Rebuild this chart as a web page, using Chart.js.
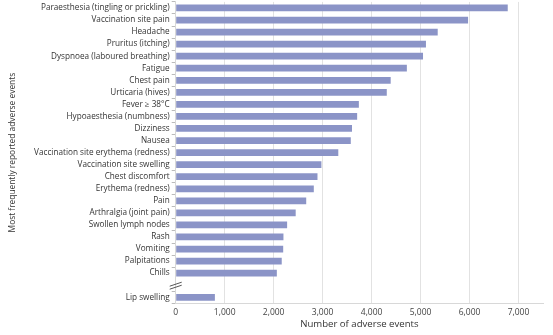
<!DOCTYPE html>
<html>
<head>
<meta charset="utf-8">
<script src="https://cdn.jsdelivr.net/npm/chart.js@4/dist/chart.umd.min.js"></script>
<style>
  html, body { margin: 0; padding: 0; background: #fff; overflow: hidden; }
  #wrap { width: 553px; height: 340px; margin-top: -5px; }
</style>
</head>
<body>
<div id="wrap"><canvas id="myChart"></canvas></div>
<script>
// adverse events after vaccination (horizontal bars)

const events = [
  "Paraesthesia (tingling or prickling)",
  "Vaccination site pain",
  "Headache",
  "Pruritus (itching)",
  "Dyspnoea (laboured breathing)",
  "Fatigue",
  "Chest pain",
  "Urticaria (hives)",
  "Fever \u2265 38\u00b0C",
  "Hypoaesthesia (numbness)",
  "Dizziness",
  "Nausea",
  "Vaccination site erythema (redness)",
  "Vaccination site swelling",
  "Chest discomfort",
  "Erythema (redness)",
  "Pain",
  "Arthralgia (joint pain)",
  "Swollen lymph nodes",
  "Rash",
  "Vomiting",
  "Palpitations",
  "Chills",
  "",
  "Lip swelling"
];

const counts = [
  6780, 5970, 5350, 5110, 5050, 4720, 4390, 4310, 3740, 3705,
  3600, 3575, 3320, 2975, 2895, 2820, 2665, 2450, 2275, 2200,
  2195, 2165, 2065, null, 800
];

const xTicks = [0, 1000, 2000, 3000, 4000, 5000, 6000, 7000];
const breakIndex = 23;

// little "≈" mark where the axis is broken
const axisBreak = {
  id: "axisBreak",
  afterDraw(chart) {
    const ctx = chart.ctx;
    const y = chart.scales.y.getPixelForValue(breakIndex);
    const x = chart.scales.x.getPixelForValue(0);
    ctx.save();
    ctx.strokeStyle = "#555";
    ctx.lineWidth = 1;
    ctx.beginPath();
    ctx.moveTo(x - 6, y + 1);
    ctx.lineTo(x + 6, y - 3);
    ctx.moveTo(x - 6, y + 4);
    ctx.lineTo(x + 6, y);
    ctx.stroke();
    ctx.restore();
  }
};

let myChart = document.getElementById("myChart").getContext("2d");

let eventsChart = new Chart(myChart, {
  type: "bar",
  data: {
    labels: events,
    datasets: [
      {
        label: "Adverse events",
        data: counts,
        backgroundColor: "#8b94c7",
        barPercentage: 0.56,
        categoryPercentage: 1.0,
      },
    ],
  },
  options: {
    indexAxis: "y",
    responsive: true,
    maintainAspectRatio: false,
    animation: false,
    layout: { padding: { top: 0, right: 10, left: 6, bottom: 5 } },
    plugins: {
      legend: { display: false },
      tooltip: { enabled: false },
    },
    scales: {
      x: {
        min: 0,
        max: 7500,
        afterBuildTicks: (axis) => {
          axis.ticks = xTicks.map((v) => ({ value: v }));
        },
        ticks: {
          color: "#444",
          font: { family: "Open Sans", size: 8.5 },
          padding: 4,
          callback: (v) => v.toLocaleString("en-US"),
        },
        grid: { color: "#e2e2e2", drawTicks: false },
        border: { color: "#d8d8d8" },
        title: {
          display: true,
          text: "Number of adverse events",
          color: "#333",
          font: { family: "Open Sans", size: 9.6 },
          padding: { top: -3, bottom: 0 },
        },
      },
      y: {
        ticks: {
          color: "#333",
          font: { family: "Open Sans", size: 8.2 },
          padding: 2,
          autoSkip: false,
        },
        grid: {
          drawOnChartArea: false,
          tickLength: 4,
          tickColor: (c) => (c.index === breakIndex ? "rgba(0,0,0,0)" : "#bbb"),
        },
        border: { color: "#d8d8d8" },
        title: {
          display: true,
          text: "Most frequently reported adverse events",
          color: "#333",
          font: { family: "Open Sans", size: 8.4 },
          padding: { top: 2, bottom: 14 },
        },
      },
    },
  },
  plugins: [axisBreak],
});
</script>
</body>
</html>
